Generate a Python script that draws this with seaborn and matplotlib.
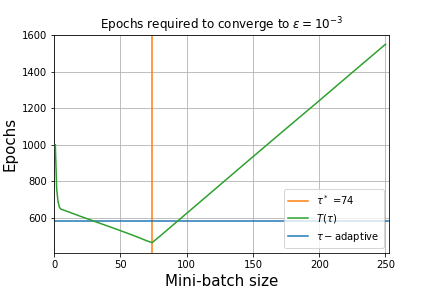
import matplotlib
matplotlib.use('Agg')
import matplotlib.pyplot as plt
import seaborn as sns
import pandas as pd

# T(tau): epochs needed for each mini-batch size
batch_size = [1, 2, 3, 4, 5, 10, 20, 30, 40, 50, 60, 70, 74,
              80, 90, 100, 125, 150, 175, 200, 225, 250]
epochs = [1000, 760, 690, 660, 648, 635, 608, 582, 556, 530, 503, 474, 464,
          500, 562, 624, 779, 934, 1088, 1241, 1396, 1550]
tau_star = 74
adaptive_epochs = 580

df = pd.DataFrame({'batch': batch_size, 'epochs': epochs})

fig, ax = plt.subplots(figsize=(6, 4), dpi=72)
ax.axvline(tau_star, color='#ff7f0e', lw=1.5, label=r'$\tau^*$ =74', zorder=2)
sns.lineplot(data=df, x='batch', y='epochs', color='#2ca02c', lw=1.5,
             label=r'$T(\tau)$', ax=ax, zorder=3)
ax.axhline(adaptive_epochs, color='#1f77b4', lw=1.5,
           label=r'$\tau-\mathrm{adaptive}$', zorder=2)

ax.set_xlim(0, 252.5)
ax.set_ylim(408, 1600)
ax.set_xticks([0, 50, 100, 150, 200, 250])
ax.set_yticks([600, 800, 1000, 1200, 1400, 1600])
ax.grid(True, color='#b0b0b0', lw=0.8)
ax.set_title(r'Epochs required to converge to $\epsilon = 10^{-3}$', fontsize=12)
ax.set_xlabel('Mini-batch size', fontsize=15)
ax.set_ylabel('Epochs', fontsize=15)
ax.legend(loc='lower right', fontsize=10)
plt.subplots_adjust(left=0.125, right=0.9, top=0.878, bottom=0.122)
plt.savefig('out.png', dpi=72)
